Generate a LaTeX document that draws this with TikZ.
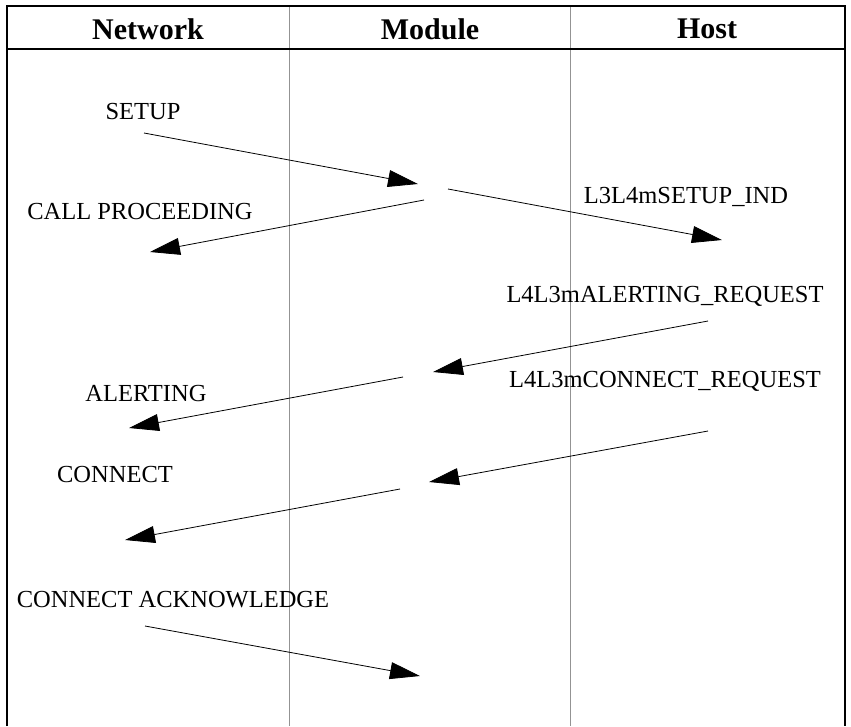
\documentclass[tikz,border=0pt]{standalone}
\usepackage{fontspec}
\setmainfont{Liberation Serif}
\usetikzlibrary{arrows.meta}
\begin{document}
\begin{tikzpicture}[x=1pt,y=-1pt,
  frame/.style={line width=2.4pt,black},
  lane/.style={line width=0.9pt,gray!85},
  head/.style={font=\fontsize{30}{32}\selectfont\bfseries,inner sep=0pt},
  lbl/.style={font=\fontsize{24.5}{26}\selectfont,inner sep=0pt},
  msg/.style={line width=0.8pt,black,-{Triangle[length=30pt,width=17pt]}}]
\useasboundingbox (0,0) rectangle (851,726);
% frame
\coordinate (tl) at (7,6);
\coordinate (tr) at (845,6);
\coordinate (bl) at (7,726);
\coordinate (br) at (845,726);
\coordinate (hl) at (7,49);
\coordinate (hr) at (846,49);
\coordinate (l1t) at (289,6);
\coordinate (l1b) at (289,726);
\coordinate (l2t) at (570,6);
\coordinate (l2b) at (570,726);
\draw[lane] (l1t) -- (l1b);
\draw[lane] (l2t) -- (l2b);
\draw[frame] (bl) -- (tl) -- (tr) -- (br);
\draw[frame] (hl) -- (hr);
% headers
\node[head] (hnet) at (148,29) {Network};
\node[head] (hmod) at (430,29) {Module};
\node[head] (hhost) at (707,29) {Host};
% labels
\node[lbl] (tsetup) at (143,112) {SETUP};
\node[lbl] (tcp) at (140,212) {CALL PROCEEDING};
\node[lbl] (tsi) at (686,197) {L3L4mSETUP\_IND};
\node[lbl] (tar) at (665,296) {L4L3mALERTING\_REQUEST};
\node[lbl] (tal) at (146,394) {ALERTING};
\node[lbl] (tcr) at (665,381) {L4L3mCONNECT\_REQUEST};
\node[lbl] (tcon) at (115,474) {CONNECT};
\node[lbl] (tca) at (173,600) {CONNECT ACKNOWLEDGE};
% message endpoints
\coordinate (a1s) at (144,133);  \coordinate (a1e) at (418,184);
\coordinate (a2s) at (424,200);  \coordinate (a2e) at (150,252);
\coordinate (a3s) at (448,189);  \coordinate (a3e) at (722,240);
\coordinate (a4s) at (708,321);  \coordinate (a4e) at (433,372);
\coordinate (a5s) at (403,377);  \coordinate (a5e) at (129,428);
\coordinate (a6s) at (708,431);  \coordinate (a6e) at (429,482);
\coordinate (a7s) at (400,489);  \coordinate (a7e) at (125,540);
\coordinate (a8s) at (145,626);  \coordinate (a8e) at (420,676);
\draw[msg] (a1s) -- (a1e);
\draw[msg] (a2s) -- (a2e);
\draw[msg] (a3s) -- (a3e);
\draw[msg] (a4s) -- (a4e);
\draw[msg] (a5s) -- (a5e);
\draw[msg] (a6s) -- (a6e);
\draw[msg] (a7s) -- (a7e);
\draw[msg] (a8s) -- (a8e);
\end{tikzpicture}
\end{document}
